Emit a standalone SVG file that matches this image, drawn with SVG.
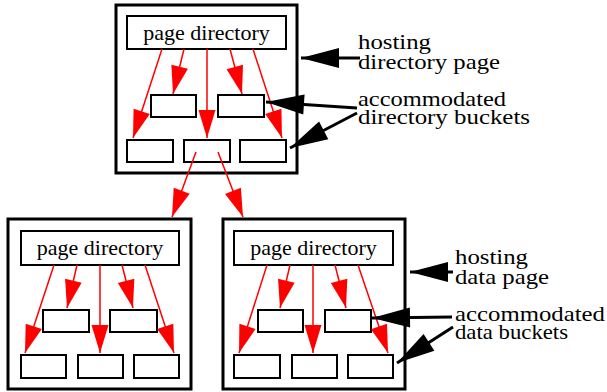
<svg xmlns="http://www.w3.org/2000/svg" width="607" height="392" viewBox="0 0 607 392">
  <style>
    .page { fill: #fff; stroke: #000; stroke-width: 3; }
    .box { fill: #fff; stroke: #000; stroke-width: 2; }
    .pd { font-family: "Liberation Serif", "Times New Roman", serif; font-size: 22px; text-anchor: middle; fill: #000; }
    .lbl { font-family: "Liberation Serif", "Times New Roman", serif; font-size: 21px; fill: #000; }
    .red { stroke: #f00; stroke-width: 1.5; fill: none; marker-end: url(#redHead); }
    .blk { stroke: #000; stroke-width: 3; fill: none; marker-end: url(#blkHead); }
  </style>
  <defs>
    <marker id="redHead" markerUnits="userSpaceOnUse" markerWidth="30" markerHeight="18" refX="28" refY="8.5" orient="auto" overflow="visible">
      <path d="M0,0 L28,8.5 L0,17 z" fill="#f00"/>
    </marker>
    <marker id="blkHead" markerUnits="userSpaceOnUse" markerWidth="40" markerHeight="22" refX="38" refY="10" orient="auto" overflow="visible">
      <path d="M0,0 L38,10 L0,20 z" fill="#000"/>
    </marker>
  </defs>

  <!-- directory page -->
  <g id="dirPage">
    <rect class="page" x="116" y="5" width="181" height="168"/>
    <rect class="box" x="127" y="16" width="159" height="33"/>
    <text class="pd" x="206.5" y="40">page directory</text>
    <rect class="box" x="151" y="95" width="45" height="22"/>
    <rect class="box" x="218" y="95" width="46" height="22"/>
    <rect class="box" x="127" y="140" width="46" height="22"/>
    <rect class="box" x="184" y="140" width="46" height="22"/>
    <rect class="box" x="240" y="140" width="46" height="22"/>
  </g>

  <!-- left data page -->
  <g id="dataPageLeft">
    <rect class="page" x="8" y="219" width="183" height="170"/>
    <rect class="box" x="21" y="231" width="158" height="34"/>
    <text class="pd" x="100" y="255">page directory</text>
    <rect class="box" x="43" y="310" width="46" height="22"/>
    <rect class="box" x="110" y="310" width="47" height="22"/>
    <rect class="box" x="21" y="355" width="45" height="23"/>
    <rect class="box" x="78" y="355" width="45" height="23"/>
    <rect class="box" x="134" y="355" width="45" height="23"/>
  </g>

  <!-- right data page -->
  <g id="dataPageRight">
    <rect class="page" x="223" y="219" width="182" height="170"/>
    <rect class="box" x="234" y="231" width="159" height="34"/>
    <text class="pd" x="313.5" y="255">page directory</text>
    <rect class="box" x="258" y="310" width="45" height="22"/>
    <rect class="box" x="325" y="310" width="46" height="22"/>
    <rect class="box" x="234" y="355" width="46" height="23"/>
    <rect class="box" x="292" y="355" width="45" height="23"/>
    <rect class="box" x="348" y="355" width="45" height="23"/>
  </g>

  <!-- labels -->
  <g id="labelDirPage">
    <text class="lbl" x="358" y="49" textLength="73" lengthAdjust="spacingAndGlyphs">hosting</text>
    <text class="lbl" x="358" y="69" textLength="142" lengthAdjust="spacingAndGlyphs">directory page</text>
  </g>
  <g id="labelDirBuckets">
    <text class="lbl" x="358" y="106" textLength="148" lengthAdjust="spacingAndGlyphs">accommodated</text>
    <text class="lbl" x="358" y="124" textLength="172" lengthAdjust="spacingAndGlyphs">directory buckets</text>
  </g>
  <g id="labelDataPage">
    <text class="lbl" x="455" y="264" textLength="73" lengthAdjust="spacingAndGlyphs">hosting</text>
    <text class="lbl" x="455" y="284" textLength="94" lengthAdjust="spacingAndGlyphs">data page</text>
  </g>
  <g id="labelDataBuckets">
    <text class="lbl" x="455" y="321" textLength="150" lengthAdjust="spacingAndGlyphs">accommodated</text>
    <text class="lbl" x="455" y="339" textLength="113" lengthAdjust="spacingAndGlyphs">data buckets</text>
  </g>

  <!-- connectors -->
  <g id="connectors">
    <!-- directory page pointers -->
    <line class="red" x1="162" y1="49" x2="133" y2="138"/>
    <line class="red" x1="184" y1="49" x2="173" y2="94"/>
    <line class="red" x1="207" y1="49" x2="207" y2="138"/>
    <line class="red" x1="230" y1="49" x2="242" y2="94"/>
    <line class="red" x1="253" y1="49" x2="282" y2="138"/>
    <!-- bucket to data pages -->
    <line class="red" x1="196" y1="152" x2="172" y2="217"/>
    <line class="red" x1="218" y1="152" x2="243" y2="217"/>
    <!-- left data page pointers -->
    <line class="red" x1="54" y1="265" x2="25" y2="353"/>
    <line class="red" x1="77" y1="265" x2="67" y2="308"/>
    <line class="red" x1="100" y1="265" x2="100" y2="353"/>
    <line class="red" x1="122" y1="265" x2="133" y2="308"/>
    <line class="red" x1="145" y1="265" x2="174" y2="353"/>
    <!-- right data page pointers -->
    <line class="red" x1="267" y1="265" x2="239" y2="353"/>
    <line class="red" x1="290" y1="265" x2="280" y2="308"/>
    <line class="red" x1="313" y1="265" x2="313" y2="353"/>
    <line class="red" x1="335" y1="265" x2="346" y2="308"/>
    <line class="red" x1="358" y1="265" x2="388" y2="353"/>
    <!-- label callouts -->
    <line class="blk" x1="360" y1="58" x2="301" y2="58"/>
    <line class="blk" x1="357" y1="108" x2="266" y2="102"/>
    <line class="blk" x1="357" y1="113" x2="290" y2="148"/>
    <line class="blk" x1="453" y1="272" x2="410" y2="272"/>
    <line class="blk" x1="452" y1="317" x2="372" y2="318"/>
    <line class="blk" x1="453" y1="327" x2="397" y2="363"/>
  </g>
</svg>
